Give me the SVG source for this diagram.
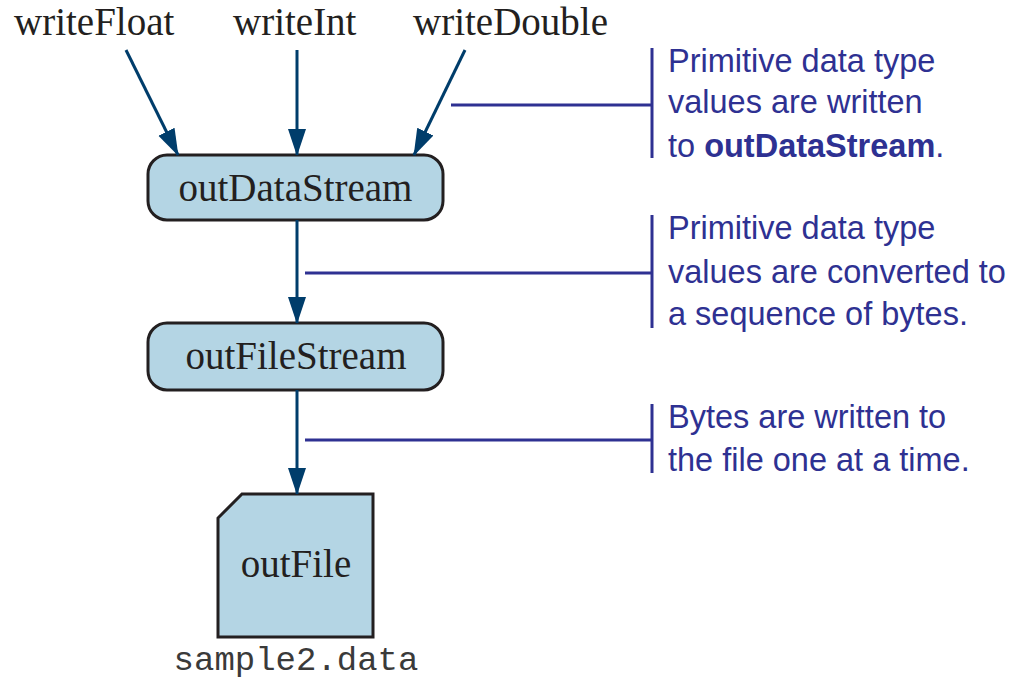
<svg xmlns="http://www.w3.org/2000/svg" width="1011" height="679" viewBox="0 0 1011 679">
<defs>
<marker id="arr" markerUnits="userSpaceOnUse" markerWidth="28" markerHeight="20" viewBox="0 0 28 20" refX="26" refY="10" orient="auto">
<path d="M0,1 L0,19 L27,10 Z" fill="#003d6b"/>
</marker>
<style>
.lbl{font-family:"Liberation Serif","Times New Roman",serif;font-size:39px;fill:#231f20}
.node{fill:#b4d5e4;stroke:#231f20;stroke-width:3}
.conn{stroke:#003d6b;stroke-width:3;fill:none}
.call{stroke:#2e3192;stroke-width:3;fill:none}
.note{font-family:"Liberation Sans",Arial,sans-serif;font-size:32.5px;fill:#2e3192}
.mono{font-family:"Liberation Mono","Courier New",monospace;font-size:34px;fill:#3a3a3a}
</style>
</defs>
<rect width="1011" height="679" fill="#ffffff"/>

<g id="labels">
<text class="lbl" x="14" y="35">writeFloat</text>
<text class="lbl" x="233" y="35">writeInt</text>
<text class="lbl" x="413" y="35">writeDouble</text>
</g>

<g id="outDataStream">
<rect class="node" x="148" y="155" width="295" height="65" rx="19"/>
<text class="lbl" x="295.5" y="201" text-anchor="middle">outDataStream</text>
</g>

<g id="outFileStream">
<rect class="node" x="148" y="323" width="295" height="67" rx="19"/>
<text class="lbl" x="296" y="369" text-anchor="middle">outFileStream</text>
</g>

<g id="outFile">
<path class="node" d="M242,494 L373,494 L373,637 L218,637 L218,518 Z"/>
<text class="lbl" x="296" y="577" text-anchor="middle">outFile</text>
<text class="mono" x="296" y="670" text-anchor="middle">sample2.data</text>
</g>

<g id="connectors">
<line class="conn" x1="126" y1="50" x2="178" y2="155" marker-end="url(#arr)"/>
<line class="conn" x1="297" y1="50" x2="297" y2="155" marker-end="url(#arr)"/>
<line class="conn" x1="465" y1="50" x2="414" y2="155" marker-end="url(#arr)"/>
<line class="conn" x1="297" y1="220" x2="297" y2="323" marker-end="url(#arr)"/>
<line class="conn" x1="297" y1="390" x2="297" y2="494" marker-end="url(#arr)"/>
</g>

<g id="callout1">
<line class="call" x1="451" y1="105" x2="652" y2="105"/>
<line class="call" x1="652" y1="48" x2="652" y2="158"/>
<text class="note" x="668" y="72">Primitive data type</text>
<text class="note" x="668" y="113">values are written</text>
<text class="note" x="668" y="157">to <tspan font-weight="bold">outDataStream</tspan>.</text>
</g>

<g id="callout2">
<line class="call" x1="305" y1="273" x2="652" y2="273"/>
<line class="call" x1="652" y1="215" x2="652" y2="328"/>
<text class="note" x="668" y="239">Primitive data type</text>
<text class="note" x="668" y="283">values are converted to</text>
<text class="note" x="668" y="325">a sequence of bytes.</text>
</g>

<g id="callout3">
<line class="call" x1="305" y1="440" x2="652" y2="440"/>
<line class="call" x1="652" y1="404" x2="652" y2="473"/>
<text class="note" x="668" y="428">Bytes are written to</text>
<text class="note" x="668" y="471">the file one at a time.</text>
</g>
</svg>
